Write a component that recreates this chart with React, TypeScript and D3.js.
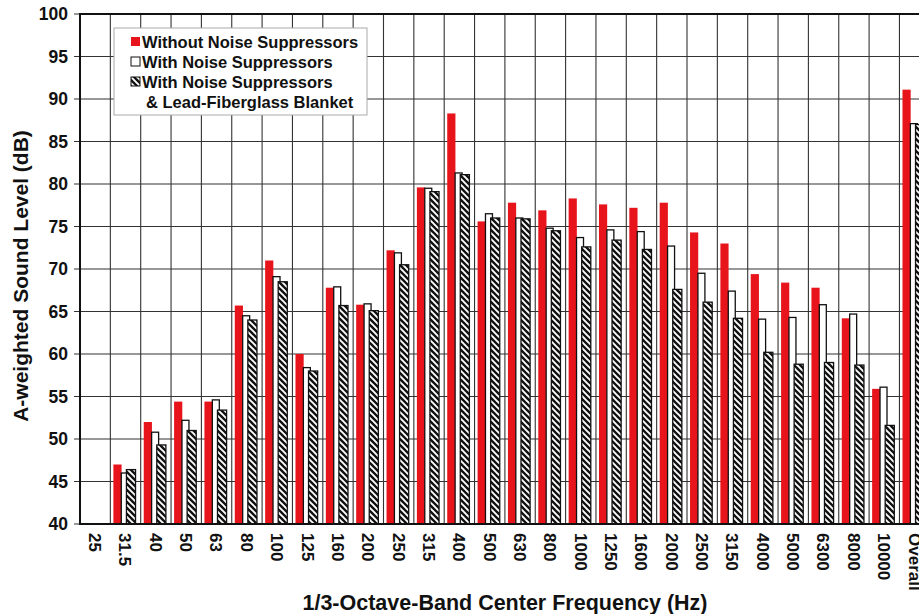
import { useEffect, useRef } from 'react';
import * as d3 from 'd3';

const categories = ['25', '31.5', '40', '50', '63', '80', '100', '125', '160', '200', '250', '315', '400', '500', '630', '800', '1000', '1250', '1600', '2000', '2500', '3150', '4000', '5000', '6300', '8000', '10000', 'Overall'];

const withoutSuppressors = [null, 47, 52, 54.4, 54.4, 65.7, 71, 60, 67.8, 65.8, 72.2, 79.6, 88.3, 75.6, 77.8, 76.9, 78.3, 77.6, 77.2, 77.8, 74.3, 73.0, 69.4, 68.4, 67.8, 64.2, 55.9, 91.1];
const withSuppressors = [null, 46, 50.8, 52.2, 54.6, 64.5, 69.1, 58.4, 67.9, 65.9, 71.9, 79.5, 81.3, 76.5, 76.0, 74.8, 73.7, 74.6, 74.4, 72.7, 69.5, 67.4, 64.1, 64.3, 65.8, 64.7, 56.1, 87.1];
const withBlanket = [null, 46.4, 49.3, 51, 53.4, 64.0, 68.5, 58.0, 65.7, 65.1, 70.5, 79.1, 81.1, 76.0, 75.9, 74.5, 72.6, 73.4, 72.3, 67.6, 66.1, 64.2, 60.2, 58.8, 59.0, 58.7, 51.6, 87.0];

const yTicks = [40, 45, 50, 55, 60, 65, 70, 75, 80, 85, 90, 95, 100];

const legendLabels = ['Without Noise Suppressors', 'With Noise Suppressors', 'With Noise Suppressors', '& Lead-Fiberglass Blanket'];

const FONT = "'Liberation Sans', Arial, Helvetica, sans-serif";

export default function App() {
  const ref = useRef<SVGSVGElement>(null);

  useEffect(() => {
    if (!ref.current) return;
    const left = 80;
    const bandW = 30.35;
    const svg = d3.select(ref.current);
    svg.selectAll('*').remove();

    const x = d3.scaleBand<string>().domain(categories).range([left, left + bandW * categories.length]).padding(0);
    const y = d3.scaleLinear().domain([40, 100]).range([524, 14]);
    const bw = x.bandwidth();
    const right = left + bw * categories.length;

    // hatch pattern
    const defs = svg.append('defs');
    const pat = defs
      .append('pattern')
      .attr('id', 'hatch')
      .attr('patternUnits', 'userSpaceOnUse')
      .attr('width', 6)
      .attr('height', 6);
    pat.append('rect').attr('width', 6).attr('height', 6).attr('fill', '#111');
    pat
      .append('path')
      .attr('d', 'M-1,-1L7,7M-1,5L1,7M5,-1L7,1')
      .attr('stroke', '#fff')
      .attr('stroke-width', 1.9);

    const g = svg.append('g');

    // grid
    g.selectAll('line.h')
      .data(yTicks)
      .join('line')
      .attr('x1', left - 6)
      .attr('x2', right)
      .attr('y1', (d) => y(d))
      .attr('y2', (d) => y(d))
      .attr('stroke', '#333')
      .attr('stroke-width', 1.1);

    g.selectAll('line.v')
      .data(categories.slice(1))
      .join('line')
      .attr('x1', (d) => x(d)!)
      .attr('x2', (d) => x(d)!)
      .attr('y1', y(100))
      .attr('y2', y(40))
      .attr('stroke', '#333')
      .attr('stroke-width', 1.1);

    // bars
    const series = [
      { vals: withoutSuppressors, off: 0.1, w: 0.27, fill: '#e8141c', stroke: 'none' },
      { vals: withSuppressors, off: 0.36, w: 0.23, fill: '#fff', stroke: '#111' },
      { vals: withBlanket, off: 0.53, w: 0.3, fill: 'url(#hatch)', stroke: '#111' },
    ];
    series.forEach((s) => {
      g.append('g')
        .selectAll('rect')
        .data(categories.map((c, i) => ({ c, v: s.vals[i] })).filter((d) => d.v != null))
        .join('rect')
        .attr('x', (d) => x(d.c)! + s.off * bw)
        .attr('width', s.w * bw)
        .attr('y', (d) => y(d.v as number))
        .attr('height', (d) => y(40) - y(d.v as number))
        .attr('fill', s.fill)
        .attr('stroke', s.stroke)
        .attr('stroke-width', 1.3);
    });

    // frame
    g.append('rect')
      .attr('x', left)
      .attr('y', y(100))
      .attr('width', right - left)
      .attr('height', y(40) - y(100))
      .attr('fill', 'none')
      .attr('stroke', '#111')
      .attr('stroke-width', 2);

    // y labels
    g.selectAll('text.yl')
      .data(yTicks)
      .join('text')
      .attr('x', 68)
      .attr('y', (d) => y(d))
      .attr('dy', '0.36em')
      .attr('text-anchor', 'end')
      .attr('font-family', FONT)
      .attr('font-weight', 'bold')
      .attr('font-size', 17.5)
      .attr('fill', '#111')
      .text((d) => d);

    // x labels
    g.selectAll('text.xl')
      .data(categories)
      .join('text')
      .attr('transform', (d) => `translate(${x(d)! + bw / 2},533) rotate(90)`)
      .attr('dy', '0.36em')
      .attr('text-anchor', 'start')
      .attr('font-family', FONT)
      .attr('font-weight', 'bold')
      .attr('font-size', 17)
      .attr('fill', '#111')
      .text((d) => d);

    // axis titles
    svg.append('text')
      .attr('x', 505)
      .attr('y', 610)
      .attr('text-anchor', 'middle')
      .attr('font-family', FONT)
      .attr('font-weight', 'bold')
      .attr('font-size', 21.5)
      .attr('fill', '#111')
      .text('1/3-Octave-Band Center Frequency (Hz)');

    svg.append('text')
      .attr('transform', 'translate(28,276) rotate(-90)')
      .attr('text-anchor', 'middle')
      .attr('font-family', FONT)
      .attr('font-weight', 'bold')
      .attr('font-size', 21)
      .attr('fill', '#111')
      .text('A-weighted Sound Level (dB)');

    // legend
    const lg = svg.append('g');
    lg.append('rect')
      .attr('x', 114)
      .attr('y', 28)
      .attr('width', 253)
      .attr('height', 87)
      .attr('fill', '#fff')
      .attr('stroke', '#aaa')
      .attr('stroke-width', 1);
    const rowY = [42, 62, 82, 102];
    const swatches = [
      { fill: '#e8141c', stroke: 'none' },
      { fill: '#fff', stroke: '#111' },
      { fill: 'url(#hatch)', stroke: '#111' },
    ];
    swatches.forEach((s, i) => {
      lg.append('rect')
        .attr('x', 131)
        .attr('y', rowY[i] - 5)
        .attr('width', 9)
        .attr('height', 9)
        .attr('fill', s.fill)
        .attr('stroke', s.stroke)
        .attr('stroke-width', 1);
    });
    legendLabels.forEach((t, i) => {
      lg.append('text')
        .attr('x', i === 3 ? 146 : 142)
        .attr('y', rowY[i])
        .attr('dy', '0.36em')
        .attr('font-family', FONT)
        .attr('font-weight', 'bold')
        .attr('font-size', 16.5)
        .attr('fill', '#111')
        .text(t);
    });
  }, []);

  return (
    <div style={{ position: 'fixed', left: 0, top: 0, width: 919, height: 614, background: '#fff' }}>
      <svg ref={ref} width={919} height={614} viewBox="0 0 919 614" style={{ display: 'block' }} />
    </div>
  );
}
